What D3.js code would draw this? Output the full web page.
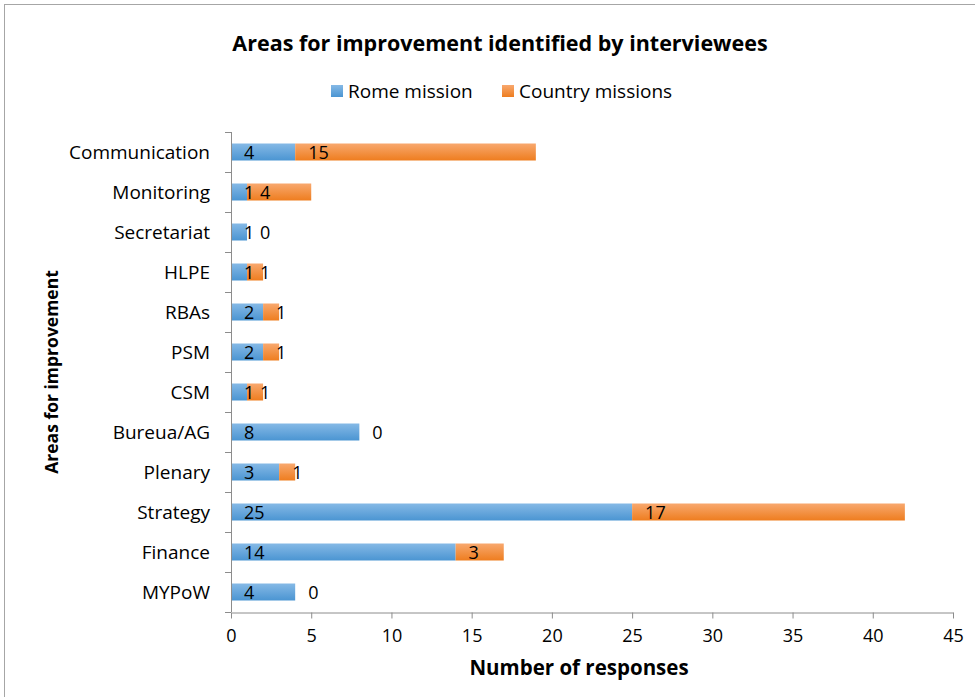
<!DOCTYPE html>
<html>
<head>
<meta charset="utf-8">
<script src="https://cdn.jsdelivr.net/npm/d3@7"></script>
<style>
  body { margin: 0; background: #fff; }
  svg { display: block; font-family: "Open Sans", sans-serif; }
</style>
</head>
<body>
<div id="chart"></div>
<script>
// data
const areas   = ["Communication", "Monitoring", "Secretariat", "HLPE", "RBAs", "PSM", "CSM",
                 "Bureua/AG", "Plenary", "Strategy", "Finance", "MYPoW"];
const rome    = [4, 1, 1, 1, 2, 2, 1, 8, 3, 25, 14, 4];
const country = [15, 4, 0, 1, 1, 1, 1, 0, 1, 17, 3, 0];
const xTicks  = [0, 5, 10, 15, 20, 25, 30, 35, 40, 45];
const seriesNames = ["Rome mission", "Country missions"];

const W = 975, H = 697;
const margin = { top: 132, right: 22, bottom: 85, left: 231 };
const fsCat = 19, fsNum = 18;

const svg = d3.select("#chart").append("svg").attr("width", W).attr("height", H);

// gradients like the Excel fills
const defs = svg.append("defs");
const grads = [
  { id: "gBlue",   top: "#85b9e6", bot: "#4b95d2" },
  { id: "gOrange", top: "#f8a86e", bot: "#ee7d1f" }
];
grads.forEach(g => {
  const lg = defs.append("linearGradient").attr("id", g.id)
    .attr("x1", 0).attr("y1", 0).attr("x2", 0).attr("y2", 1);
  lg.append("stop").attr("offset", "0%").attr("stop-color", g.top);
  lg.append("stop").attr("offset", "100%").attr("stop-color", g.bot);
});

// outer frame
svg.append("rect").attr("x", 4.5).attr("y", 4.5).attr("width", W + 10).attr("height", H + 10)
  .attr("fill", "none").attr("stroke", "#a6a6a6");

const x = d3.scaleLinear().domain([0, 45]).range([margin.left, W - margin.right]);
const y = d3.scaleBand().domain(areas).range([margin.top, H - margin.bottom]).paddingInner(0.575).paddingOuter(0.2875);

const rows = areas.map((a, i) => ({ area: a, rome: rome[i], country: country[i] }));

// bars
const g = svg.append("g");
rows.forEach(d => {
  const yy = y(d.area), bh = y.bandwidth();
  g.append("rect").attr("x", x(0)).attr("y", yy).attr("width", x(d.rome) - x(0)).attr("height", bh)
    .attr("fill", "url(#gBlue)");
  g.append("rect").attr("x", x(d.rome)).attr("y", yy).attr("width", x(d.rome + d.country) - x(d.rome)).attr("height", bh)
    .attr("fill", "url(#gOrange)");
  const ty = yy + bh / 2 + 7;
  g.append("text").attr("x", x(0) + 13).attr("y", ty).attr("font-size", fsNum).attr("fill", "#000").text(d.rome);
  g.append("text").attr("x", x(d.rome) + 13).attr("y", ty).attr("font-size", fsNum).attr("fill", "#000").text(d.country);
});

// y axis: line with ticks at band edges
const axisColor = "#8c8c8c";
const yAx = svg.append("g");
yAx.append("line").attr("x1", x(0) + 0.5).attr("x2", x(0) + 0.5)
  .attr("y1", margin.top).attr("y2", H - margin.bottom).attr("stroke", axisColor);
d3.range(areas.length + 1).forEach(i => {
  const yy = Math.round(margin.top + i * (H - margin.bottom - margin.top) / areas.length) + 0.5;
  yAx.append("line").attr("x1", x(0) - 6).attr("x2", x(0)).attr("y1", yy).attr("y2", yy).attr("stroke", axisColor);
});
areas.forEach(a => {
  yAx.append("text").attr("x", 210).attr("y", y(a) + y.bandwidth() / 2 + 7)
    .attr("text-anchor", "end").attr("font-size", fsCat).attr("fill", "#000").text(a);
});

// x axis
const xAxis = svg.append("g").attr("transform", `translate(0,${H - margin.bottom + 0.5})`)
  .call(d3.axisBottom(x).tickValues(xTicks).tickSize(6).tickPadding(11).tickSizeOuter(0));
xAxis.select(".domain").attr("stroke", axisColor);
xAxis.selectAll(".tick line").attr("stroke", axisColor);
xAxis.selectAll(".tick text").attr("font-size", fsNum).attr("fill", "#000").attr("font-family", "'Open Sans', sans-serif");

// titles
svg.append("text").attr("x", 500).attr("y", 51).attr("text-anchor", "middle")
  .attr("font-size", 21.5).attr("font-weight", "bold").text("Areas for improvement identified by interviewees");
svg.append("text").attr("x", 579).attr("y", 675).attr("text-anchor", "middle")
  .attr("font-size", 20.5).attr("font-weight", "bold").text("Number of responses");
svg.append("text").attr("transform", "translate(58,372) rotate(-90)").attr("text-anchor", "middle")
  .attr("font-size", 17.5).attr("font-weight", "bold").text("Areas for improvement");

// legend
const legendX = [331, 502];
seriesNames.forEach((s, i) => {
  svg.append("rect").attr("x", legendX[i]).attr("y", 85).attr("width", 12).attr("height", 12)
    .attr("fill", i === 0 ? "url(#gBlue)" : "url(#gOrange)");
  svg.append("text").attr("x", legendX[i] + 17).attr("y", 98).attr("font-size", 19).text(s);
});
</script>
</body>
</html>
